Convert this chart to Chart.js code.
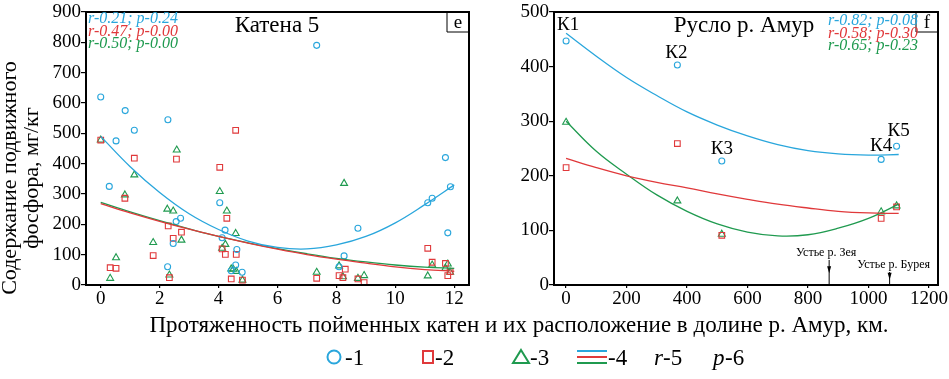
<!DOCTYPE html>
<html>
<head>
<meta charset="utf-8">
<script src="https://cdn.jsdelivr.net/npm/chart.js@4.4.1/dist/chart.umd.min.js"></script>
<style>
    html, body { margin: 0; padding: 0; background: #fff; }
    #wrap { position: relative; width: 949px; height: 379px; }
    canvas { position: absolute; left: 0; top: 0; }
</style>
</head>
<body>
<div id="wrap">
    <canvas id="leftChart" width="949" height="379"></canvas>
    <canvas id="rightChart" width="949" height="379"></canvas>
</div>
<script>
const BLUE = '#29a6dc';
const RED = '#e0393b';
const GREEN = '#1f9a4f';
const FONT = "'Liberation Serif', 'DejaVu Serif', serif";

// --- Катена 5 (left panel) ---
const k5XTicks = [0, 2, 4, 6, 8, 10, 12];
const k5YTicks = [0, 100, 200, 300, 400, 500, 600, 700, 800, 900];
const k5Circles = [[0, 620], [0.83, 575], [1.14, 510], [0.52, 475], [2.28, 545], [7.33, 790], [11.7, 420],
    [0.29, 325], [2.27, 60], [2.46, 137], [2.56, 209], [2.71, 220], [4.04, 271], [4.22, 181], [4.12, 156],
    [4.58, 66], [4.62, 117], [4.43, 47], [4.8, 42], [8.09, 60], [8.26, 96], [8.73, 187], [11.1, 271],
    [11.25, 286], [11.87, 324], [11.78, 172]];
const k5Squares = [[0, 478], [4.58, 510], [0.32, 57], [0.52, 55], [0.82, 286], [1.14, 418], [1.78, 97],
    [2.29, 195], [2.33, 24], [2.46, 154], [2.57, 415], [2.74, 174], [4.04, 388], [4.12, 119], [4.23, 101],
    [4.28, 220], [4.43, 20], [4.6, 101], [4.81, 16], [7.33, 22], [8.09, 31], [8.22, 24], [8.3, 52],
    [8.73, 20], [8.94, 8], [11.1, 121], [11.25, 75], [11.7, 71], [11.78, 31], [11.86, 44]];
const k5Triangles = [[0, 478], [2.58, 445], [0.32, 22], [0.52, 90], [0.82, 297], [1.14, 363], [1.78, 140],
    [2.26, 250], [2.46, 244], [2.74, 148], [2.33, 33], [4.04, 308], [4.12, 121], [4.23, 134], [4.28, 244],
    [4.58, 170], [4.43, 53], [4.5, 52], [4.6, 45], [4.81, 16], [7.33, 42], [8.09, 63], [8.26, 335],
    [8.22, 27], [8.73, 22], [8.94, 31], [11.1, 30], [11.25, 66], [11.7, 55], [11.78, 69], [11.86, 42]];
const k5TrendX = [0, 1, 2, 3, 4, 5, 6, 7, 8, 9, 10, 11, 12];
const k5TrendBlue = [490, 390, 305, 235, 183, 145, 124, 119, 132, 160, 205, 265, 330];
const k5TrendRed = [268, 238, 210, 184, 160, 138, 118, 100, 85, 72, 60, 51, 45];
const k5TrendGreen = [272, 241, 212, 185, 160, 139, 120, 103, 88, 76, 66, 59, 55];
const k5Stats = ['r-0.21; p-0.24', 'r-0.47; p-0.00', 'r-0.50; p-0.00'];

// --- Русло р. Амур (right panel) ---
const amurXTicks = [0, 200, 400, 600, 800, 1000, 1200];
const amurYTicks = [0, 100, 200, 300, 400, 500];
const stationNames = ['К1', 'К2', 'К3', 'К4', 'К5'];
const stationKm = [0, 368, 515, 1042, 1093];
const amurBlue = [447, 403, 227, 230, 254];
const amurRed = [215, 259, 91, 122, 143];
const amurGreen = [298, 154, 93, 134, 145];
const amurTrendX = [0, 100, 200, 300, 400, 500, 600, 700, 800, 900, 1000, 1100];
const amurTrendBlue = [461, 419, 380, 347, 317, 293, 273, 257, 246, 240, 238, 239];
const amurTrendRed = [232, 215, 200, 188, 178, 167, 157, 148, 141, 135, 132, 131];
const amurTrendGreen = [300, 245, 203, 165, 135, 112, 97, 90, 92, 104, 122, 148];
const amurStats = ['r-0.82; p-0.08', 'r-0.58; p-0.30', 'r-0.65; p-0.23'];
const mouthKm = [870, 1070];
const mouthNames = ['Устье р. Зея', 'Устье р. Бурея'];

const pairs = (arr) => arr.map(([x, y]) => ({ x, y }));
const zipPts = (xs, ys) => xs.map((x, i) => ({ x, y: ys[i] }));

function pointSet(data, style, color, radius) {
    return {
        data, pointStyle: style, pointRadius: radius, pointBorderWidth: 1.1,
        borderColor: color, pointBorderColor: color, backgroundColor: 'transparent',
        pointBackgroundColor: 'transparent', showLine: false,
    };
}
function trendSet(data, color) {
    return {
        data, showLine: true, pointRadius: 0, borderColor: color, borderWidth: 1.3,
        tension: 0.4, fill: false,
    };
}

function makeScales(xMin, xMax, xTicks, yMin, yMax, yTicks, yWidth) {
    const tickFont = { family: FONT, size: 19 };
    return {
        x: {
            type: 'linear', min: xMin, max: xMax,
            afterBuildTicks: (s) => { s.ticks = xTicks.map(v => ({ value: v })); },
            afterFit: (s) => { s.height = 94; },
            ticks: { font: tickFont, color: '#000', padding: 0, maxRotation: 0, callback: (v) => String(v) },
            grid: { drawOnChartArea: false, drawTicks: true, tickLength: 3, color: '#000', lineWidth: 1.2 },
            border: { display: true, color: '#000', width: 2 },
        },
        y: {
            type: 'linear', min: yMin, max: yMax,
            afterBuildTicks: (s) => { s.ticks = yTicks.map(v => ({ value: v })); },
            afterFit: (s) => { s.width = yWidth; },
            ticks: { font: tickFont, color: '#000', padding: 0, callback: (v) => String(v) },
            grid: { drawOnChartArea: false, drawTicks: true, tickLength: 5, color: '#000', lineWidth: 1.2 },
            border: { display: true, color: '#000', width: 2 },
        },
    };
}

function drawFrame(ctx, area) {
    ctx.strokeStyle = '#000';
    ctx.lineWidth = 2;
    ctx.strokeRect(area.left, area.top, area.right - area.left, area.bottom - area.top);
}
function drawLetterBox(ctx, area, letter) {
    ctx.lineWidth = 1;
    ctx.strokeStyle = '#000';
    ctx.beginPath();
    ctx.moveTo(area.right - 22, area.top);
    ctx.lineTo(area.right - 22, area.top + 20);
    ctx.lineTo(area.right, area.top + 20);
    ctx.stroke();
    ctx.fillStyle = '#000';
    ctx.font = `19px ${FONT}`;
    ctx.textAlign = 'center';
    ctx.textBaseline = 'alphabetic';
    ctx.fillText(letter, area.right - 11, area.top + 16);
}
function drawStats(ctx, x, y0, lines) {
    const colors = [BLUE, RED, GREEN];
    ctx.font = `italic 16px ${FONT}`;
    ctx.textAlign = 'left';
    ctx.textBaseline = 'middle';
    lines.forEach((t, i) => {
        ctx.fillStyle = colors[i];
        ctx.fillText(t, x, y0 + i * 12.5);
    });
}

function buildCharts() {
// left chart: panel e + shared titles + legend
new Chart(document.getElementById('leftChart'), {
    type: 'scatter',
    data: {
        datasets: [
            trendSet(zipPts(k5TrendX, k5TrendBlue), BLUE),
            trendSet(zipPts(k5TrendX, k5TrendRed), RED),
            trendSet(zipPts(k5TrendX, k5TrendGreen), GREEN),
            pointSet(pairs(k5Circles), 'circle', BLUE, 3),
            pointSet(pairs(k5Squares), 'rect', RED, 4),
            pointSet(pairs(k5Triangles), 'triangle', GREEN, 4),
        ]
    },
    options: {
        responsive: false, animation: false, events: [],
        layout: { padding: { left: 0, top: 12, right: 480, bottom: 0 } },
        scales: makeScales(-0.5, 12.5, k5XTicks, 0, 900, k5YTicks, 86),
        plugins: { legend: { display: false }, tooltip: { enabled: false } },
    },
    plugins: [{
        id: 'leftDecor',
        afterDraw: (chart) => {
            const ctx = chart.ctx;
            const area = chart.chartArea;
            ctx.save();
            drawFrame(ctx, area);
            drawLetterBox(ctx, area, 'e');
            drawStats(ctx, area.left + 2, 19, k5Stats);

            ctx.fillStyle = '#000';
            ctx.font = `23px ${FONT}`;
            ctx.textAlign = 'center';
            ctx.textBaseline = 'alphabetic';
            ctx.fillText('Катена 5', 277, 32);

            // y title
            ctx.save();
            ctx.translate(0, 178);
            ctx.rotate(-Math.PI / 2);
            ctx.font = `22px ${FONT}`;
            ctx.textAlign = 'center';
            ctx.textBaseline = 'middle';
            ctx.fillText('Содержание подвижного', 0, 10);
            ctx.fillText('фосфора, мг/кг', 0, 32);
            ctx.restore();

            // x title
            ctx.font = `23px ${FONT}`;
            ctx.textAlign = 'center';
            ctx.textBaseline = 'alphabetic';
            ctx.fillText('Протяженность пойменных катен и их расположение в долине р. Амур, км.', 519, 332);

            // legend
            const by = 365;
            ctx.font = `23px ${FONT}`;
            ctx.textAlign = 'left';
            ctx.lineWidth = 2;
            ctx.strokeStyle = BLUE;
            ctx.beginPath();
            ctx.arc(334, 357, 6.5, 0, Math.PI * 2);
            ctx.stroke();
            ctx.fillStyle = '#000';
            ctx.fillText('-1', 345, by);

            ctx.strokeStyle = RED;
            ctx.strokeRect(423, 351, 10, 12);
            ctx.fillText('-2', 435, by);

            ctx.strokeStyle = GREEN;
            ctx.beginPath();
            ctx.moveTo(521, 350);
            ctx.lineTo(529, 363);
            ctx.lineTo(513, 363);
            ctx.closePath();
            ctx.stroke();
            ctx.fillText('-3', 530, by);

            [[BLUE, 351], [RED, 357], [GREEN, 363]].forEach(([c, y]) => {
                ctx.strokeStyle = c;
                ctx.beginPath();
                ctx.moveTo(577, y);
                ctx.lineTo(607, y);
                ctx.stroke();
            });
            ctx.fillText('-4', 608, by);

            ctx.font = `italic 23px ${FONT}`;
            ctx.fillText('r', 654, by);
            ctx.fillText('p', 713, by);
            ctx.font = `23px ${FONT}`;
            ctx.fillText('-5', 663, by);
            ctx.fillText('-6', 725, by);
            ctx.restore();
        }
    }],
});

// right chart: panel f
new Chart(document.getElementById('rightChart'), {
    type: 'scatter',
    data: {
        datasets: [
            trendSet(zipPts(amurTrendX, amurTrendBlue), BLUE),
            trendSet(zipPts(amurTrendX, amurTrendRed), RED),
            trendSet(zipPts(amurTrendX, amurTrendGreen), GREEN),
            pointSet(zipPts(stationKm, amurBlue), 'circle', BLUE, 3),
            pointSet(zipPts(stationKm, amurRed), 'rect', RED, 4),
            pointSet(zipPts(stationKm, amurGreen), 'triangle', GREEN, 4),
        ]
    },
    options: {
        responsive: false, animation: false, events: [],
        layout: { padding: { left: 480, top: 12, right: 11, bottom: 0 } },
        scales: makeScales(-40, 1230, amurXTicks, 0, 500, amurYTicks, 74),
        plugins: { legend: { display: false }, tooltip: { enabled: false } },
    },
    plugins: [{
        id: 'rightDecor',
        afterDraw: (chart) => {
            const ctx = chart.ctx;
            const area = chart.chartArea;
            const xs = chart.scales.x;
            const ys = chart.scales.y;
            ctx.save();
            drawFrame(ctx, area);
            drawLetterBox(ctx, area, 'f');
            drawStats(ctx, 828, 21, amurStats);

            ctx.fillStyle = '#000';
            ctx.font = `23px ${FONT}`;
            ctx.textAlign = 'center';
            ctx.textBaseline = 'alphabetic';
            ctx.fillText('Русло р. Амур', 744, 32);

            // station labels above blue points
            const lift = [11, 7, 7, 8, 10];
            const shift = [2, -1, 0, 0, 2];
            ctx.font = `19px ${FONT}`;
            stationNames.forEach((name, i) => {
                const px = xs.getPixelForValue(stationKm[i]) + shift[i];
                const py = ys.getPixelForValue(amurBlue[i]) - lift[i];
                ctx.fillText(name, px, py);
            });

            // river mouths
            const tops = [260, 272];
            ctx.font = `12px ${FONT}`;
            ctx.lineWidth = 1;
            ctx.strokeStyle = '#000';
            mouthKm.forEach((km, i) => {
                const px = xs.getPixelForValue(km);
                ctx.textAlign = 'center';
                ctx.fillText(mouthNames[i], px + (i === 0 ? -3 : 4), tops[i] - 4);
                ctx.beginPath();
                ctx.moveTo(px, tops[i]);
                ctx.lineTo(px, area.bottom);
                ctx.stroke();
                const hy = tops[i] + (area.bottom - tops[i]) * 0.45;
                ctx.beginPath();
                ctx.moveTo(px - 2, hy - 5);
                ctx.lineTo(px + 2, hy - 5);
                ctx.lineTo(px, hy + 2);
                ctx.closePath();
                ctx.fill();
            });
            ctx.restore();
        }
    }],
});
}

Promise.all([
    document.fonts.load(`19px ${FONT}`, 'Кат0'),
    document.fonts.load(`italic 16px ${FONT}`, 'rp0'),
]).catch(() => {}).then(buildCharts);
</script>
</body>
</html>
